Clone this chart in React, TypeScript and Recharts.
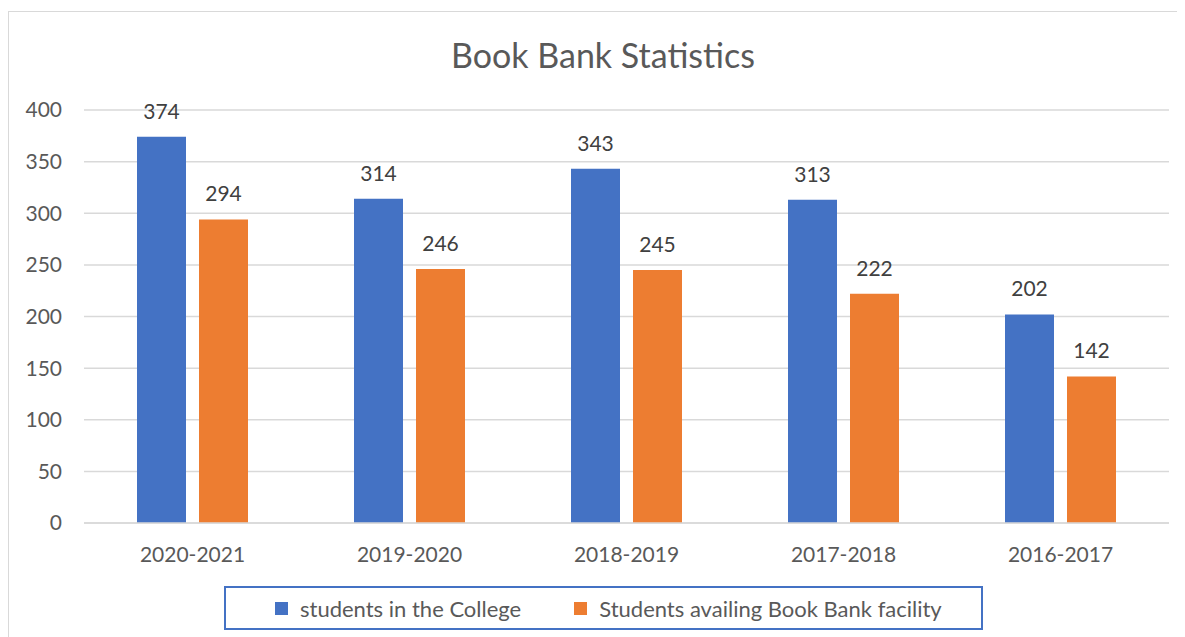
import React from "react";
import { BarChart, Bar, XAxis, YAxis, CartesianGrid, Legend, LabelList } from "recharts";

const categories = ["2020-2021", "2019-2020", "2018-2019", "2017-2018", "2016-2017"];
const studentsInCollege = [374, 314, 343, 313, 202];
const studentsAvailing = [294, 246, 245, 222, 142];
const yTicks = [0, 50, 100, 150, 200, 250, 300, 350, 400];

const SERIES_A = "students in the College";
const SERIES_B = "Students availing Book Bank facility";

const data = categories.map((c, i) => ({
  year: c,
  a: studentsInCollege[i],
  b: studentsAvailing[i],
}));

const FONT = "Lato, 'Open Sans', sans-serif";

const renderLegend = () => (
  <div
    style={{
      boxSizing: "border-box",
      width: 759,
      height: 44,
      border: "2px solid #4472C4",
      display: "flex",
      alignItems: "center",
      justifyContent: "flex-start",
      paddingLeft: 49,
      fontFamily: FONT,
      fontSize: 22,
      color: "#595959",
      whiteSpace: "nowrap",
    }}
  >
    <span style={{ display: "inline-flex", alignItems: "center", marginRight: 53 }}>
      <span style={{ width: 13, height: 13, background: "#4472C4", marginRight: 12 }} />
      {SERIES_A}
    </span>
    <span style={{ display: "inline-flex", alignItems: "center" }}>
      <span style={{ width: 13, height: 13, background: "#ED7D31", marginRight: 12 }} />
      {SERIES_B}
    </span>
  </div>
);

export default function App() {
  return (
    <div
      style={{
        position: "relative",
        width: 1200,
        height: 640,
        marginTop: 3,
        border: "1px solid #d9d9d9",
        background: "#fff",
        fontFamily: FONT,
      }}
    >
      <div
        style={{
          position: "absolute",
          left: 0,
          width: 1188,
          top: 22,
          textAlign: "center",
          fontSize: 34,
          color: "#595959",
          fontFamily: FONT,
        }}
      >
        Book Bank Statistics
      </div>
      <BarChart
        width={1176}
        height={620}
        data={data}
        margin={{ top: 98, right: 16, left: 0, bottom: 35 }}
        barCategoryGap={53}
        barGap={13}
      >
        <CartesianGrid vertical={false} stroke="#d9d9d9" strokeWidth={1.5} />
        <XAxis
          dataKey="year"
          axisLine={{ stroke: "#d9d9d9", strokeWidth: 1.5 }}
          tickLine={false}
          tickSize={0}
          tickMargin={24}
          height={30}
          tick={{ fill: "#595959", fontSize: 21, fontFamily: FONT }}
        />
        <YAxis
          width={75}
          domain={[0, 400]}
          ticks={yTicks}
          axisLine={false}
          tickLine={false}
          tickSize={0}
          tickMargin={22}
          tick={{ fill: "#595959", fontSize: 21, fontFamily: FONT }}
        />
        <Legend
          verticalAlign="bottom"
          content={renderLegend}
          wrapperStyle={{ left: 215, top: 574, width: 759, bottom: "auto" }}
        />
        <Bar dataKey="a" name={SERIES_A} fill="#4472C4" barSize={49} isAnimationActive={false}>
          <LabelList dataKey="a" position="top" offset={18} fill="#404040" fontSize={21} fontFamily={FONT} />
        </Bar>
        <Bar dataKey="b" name={SERIES_B} fill="#ED7D31" barSize={49} isAnimationActive={false}>
          <LabelList dataKey="b" position="top" offset={18} fill="#404040" fontSize={21} fontFamily={FONT} />
        </Bar>
      </BarChart>
    </div>
  );
}
